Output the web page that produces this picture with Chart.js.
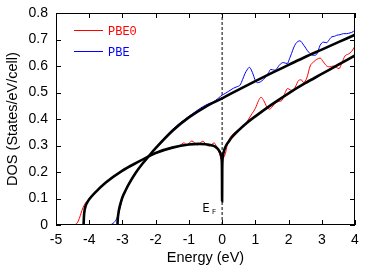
<!DOCTYPE html>
<html>
<head>
<meta charset="utf-8">
<script src="https://cdn.jsdelivr.net/npm/chart.js@4.4.1/dist/chart.umd.min.js"></script>
<style>
  html, body { margin: 0; padding: 0; background: #fff; }
  #wrap { width: 374px; height: 267px; position: relative; }
</style>
</head>
<body>
<div id="wrap"><canvas id="dosChart"></canvas></div>
<script>
// PBE0 DOS (red, noisy)
const pbe0X = [-4.5,-4.4,-4.33,-4.27,-4.22,-4.15,-4.08,-4.0,-3.8,-3.5,-3.0,-2.5,-2.2,-2.0,-1.5,-1.27,-1.15,-1.06,-0.91,-0.74,-0.58,-0.45,-0.38,-0.24,-0.15,-0.08,-0.02,0.05,0.1,0.15,0.2,0.3,0.4,0.5,0.6,0.7,0.8,0.9,1.0,1.1,1.17,1.25,1.35,1.43,1.5,1.6,1.7,1.8,1.9,1.97,2.05,2.12,2.2,2.3,2.38,2.45,2.55,2.65,2.75,2.85,2.95,3.05,3.15,3.25,3.35,3.45,3.52,3.6,3.7,3.8,3.9,4.0];
const pbe0Y = [0,0.003,0.015,0.035,0.055,0.075,0.088,0.097,0.125,0.16,0.205,0.24,0.26,0.272,0.29,0.3,0.31,0.302,0.317,0.302,0.316,0.3,0.298,0.31,0.29,0.27,0.247,0.255,0.27,0.3,0.32,0.34,0.35,0.355,0.365,0.38,0.4,0.42,0.44,0.47,0.482,0.47,0.445,0.437,0.445,0.46,0.466,0.47,0.5,0.515,0.51,0.507,0.52,0.545,0.548,0.538,0.555,0.6,0.615,0.625,0.63,0.615,0.6,0.597,0.6,0.594,0.59,0.61,0.638,0.645,0.655,0.675];

// PBE DOS (blue, noisy)
const pbeX = [-3.45,-3.32,-3.25,-3.17,-3.1,-3.05,-3.0,-2.8,-2.5,-2.2,-2.0,-1.5,-1.0,-0.8,-0.6,-0.5,-0.4,-0.3,-0.2,-0.1,0,0.1,0.2,0.34,0.45,0.54,0.62,0.69,0.75,0.82,0.88,0.94,1.0,1.06,1.15,1.25,1.33,1.4,1.46,1.52,1.59,1.66,1.72,1.84,1.96,2.03,2.09,2.15,2.22,2.34,2.46,2.6,2.75,2.85,2.95,3.05,3.15,3.2,3.3,3.38,3.45,3.55,3.65,3.75,3.85,3.95,4.0];
const pbeY = [0,0.003,0.01,0.025,0.05,0.075,0.1,0.155,0.215,0.262,0.292,0.36,0.41,0.428,0.445,0.452,0.458,0.463,0.47,0.48,0.49,0.497,0.505,0.516,0.522,0.528,0.55,0.572,0.585,0.595,0.585,0.566,0.545,0.537,0.54,0.55,0.562,0.575,0.587,0.586,0.584,0.592,0.603,0.613,0.609,0.628,0.647,0.668,0.685,0.695,0.678,0.653,0.64,0.645,0.678,0.69,0.688,0.695,0.71,0.712,0.716,0.718,0.722,0.722,0.725,0.73,0.737];

// model fits (black)
const fitPbe0X = [-4.17,-4.16,-4.14,-4.1,-4.05,-4.0,-3.8,-3.5,-3.0,-2.5,-2.2,-2.0,-1.5,-1.0,-0.7,-0.5,-0.3,-0.2,-0.12,-0.07,-0.03,-0.012,-0.004,0,0.004,0.012,0.03,0.07,0.12,0.2,0.3,0.5,0.75,1.0,1.5,2.0,2.5,3.0,3.5,4.0];
const fitPbe0Y = [0,0.03,0.055,0.075,0.087,0.097,0.125,0.16,0.205,0.24,0.26,0.272,0.292,0.304,0.306,0.305,0.3,0.295,0.286,0.276,0.262,0.245,0.2,0.09,0.2,0.245,0.265,0.285,0.3,0.315,0.332,0.358,0.386,0.41,0.455,0.497,0.535,0.57,0.605,0.64];
const fitPbeX = [-3.15,-3.14,-3.12,-3.1,-3.05,-3.0,-2.9,-2.8,-2.6,-2.4,-2.2,-2.0,-1.5,-1.0,-0.5,0,0.5,1.0,1.5,2.0,2.5,3.0,3.5,4.0];
const fitPbeY = [0,0.025,0.045,0.06,0.085,0.105,0.132,0.156,0.197,0.231,0.261,0.29,0.355,0.406,0.446,0.478,0.511,0.543,0.574,0.604,0.634,0.662,0.69,0.718];

// Fermi level marker
const fermiX = [0, 0];
const fermiY = [0, 0.8];

const legendNames = ['PBE0', 'PBE'];

function pts(xs, ys) { return xs.map((x, i) => ({ x: x, y: ys[i] })); }

const framePlugin = {
  id: 'frame',
  afterDatasetsDraw(chart) {
    const { ctx, chartArea: a, scales: { x, y } } = chart;
    ctx.save();
    ctx.strokeStyle = '#000';
    ctx.lineWidth = 1;
    ctx.strokeRect(a.left + 0.5, a.top + 0.5, a.right - a.left - 1, a.bottom - a.top - 1);
    const tl = 5;
    ctx.beginPath();
    x.ticks.forEach(t => {
      const px = Math.round(x.getPixelForValue(t.value)) + 0.5;
      ctx.moveTo(px, a.bottom); ctx.lineTo(px, a.bottom - tl);
      ctx.moveTo(px, a.top); ctx.lineTo(px, a.top + tl);
    });
    y.ticks.forEach(t => {
      const py = Math.round(y.getPixelForValue(t.value)) + 0.5;
      ctx.moveTo(a.left, py); ctx.lineTo(a.left + tl, py);
      ctx.moveTo(a.right, py); ctx.lineTo(a.right - tl, py);
    });
    ctx.stroke();

    // legend
    ctx.font = '12px "Liberation Mono", monospace';
    ctx.textBaseline = 'middle';
    legendNames.forEach((name, i) => {
      const ds = chart.data.datasets.find(d => d.label === name);
      const ly = a.top + 17.5 + i * 21;
      ctx.strokeStyle = ds.borderColor;
      ctx.lineWidth = 1;
      ctx.beginPath();
      ctx.moveTo(a.left + 18, ly); ctx.lineTo(a.left + 47, ly);
      ctx.stroke();
      ctx.fillStyle = ds.borderColor;
      ctx.fillText(name, a.left + 52, ly + 1);
    });

    // E_F label
    const x0 = x.getPixelForValue(0);
    ctx.fillStyle = '#000';
    ctx.textBaseline = 'alphabetic';
    ctx.font = '12px "Liberation Mono", monospace';
    ctx.fillText('E', x0 - 19.5, 212);
    ctx.font = '7px "Liberation Mono", monospace';
    ctx.fillText('F', x0 - 10, 214);
    ctx.restore();
  }
};

const tickFont = { family: '"Liberation Sans", Arial, sans-serif', size: 14 };
const titleFont = { family: '"Liberation Sans", Arial, sans-serif', size: 14.5 };

new Chart(document.getElementById('dosChart').getContext('2d'), {
  type: 'line',
  data: {
    datasets: [
      { label: 'PBE0 fit', data: pts(fitPbe0X, fitPbe0Y), borderColor: '#000', borderWidth: 2.6, pointRadius: 0, cubicInterpolationMode: 'monotone', fill: false },
      { label: 'PBE fit', data: pts(fitPbeX, fitPbeY), borderColor: '#000', borderWidth: 2.6, pointRadius: 0, cubicInterpolationMode: 'monotone', fill: false },
      { label: 'PBE0', data: pts(pbe0X, pbe0Y), borderColor: '#ff0000', borderWidth: 1, pointRadius: 0, cubicInterpolationMode: 'monotone', fill: false },
      { label: 'PBE', data: pts(pbeX, pbeY), borderColor: '#0000ff', borderWidth: 1, pointRadius: 0, cubicInterpolationMode: 'monotone', fill: false },
      { label: 'EF', data: pts(fermiX, fermiY), borderColor: '#000', borderWidth: 1, borderDash: [3, 2], pointRadius: 0, fill: false }
    ]
  },
  options: {
    responsive: true,
    maintainAspectRatio: false,
    animation: false,
    events: [],
    layout: { padding: { left: 0, right: 19, top: 13, bottom: 0 } },
    plugins: { legend: { display: false }, tooltip: { enabled: false } },
    scales: {
      x: {
        type: 'linear', min: -5, max: 4,
        ticks: { stepSize: 1, color: '#000', font: tickFont, padding: 7 },
        grid: { display: false, drawTicks: false },
        border: { display: false },
        title: { display: true, text: 'Energy (eV)', color: '#000', font: titleFont, padding: { top: 0, bottom: 0 } },
        afterFit(s) { s.height = 42; s.paddingLeft = 0; s.paddingRight = 0; }
      },
      y: {
        type: 'linear', min: 0, max: 0.8,
        ticks: { stepSize: 0.1, color: '#000', font: tickFont, padding: 8 },
        grid: { display: false, drawTicks: false },
        border: { display: false },
        title: { display: true, text: 'DOS (States/eV/cell)', color: '#000', font: titleFont, padding: { top: 4, bottom: 2 } },
        afterFit(s) { s.width = 56; s.paddingTop = 0; s.paddingBottom = 0; }
      }
    }
  },
  plugins: [framePlugin]
});
</script>
</body>
</html>
